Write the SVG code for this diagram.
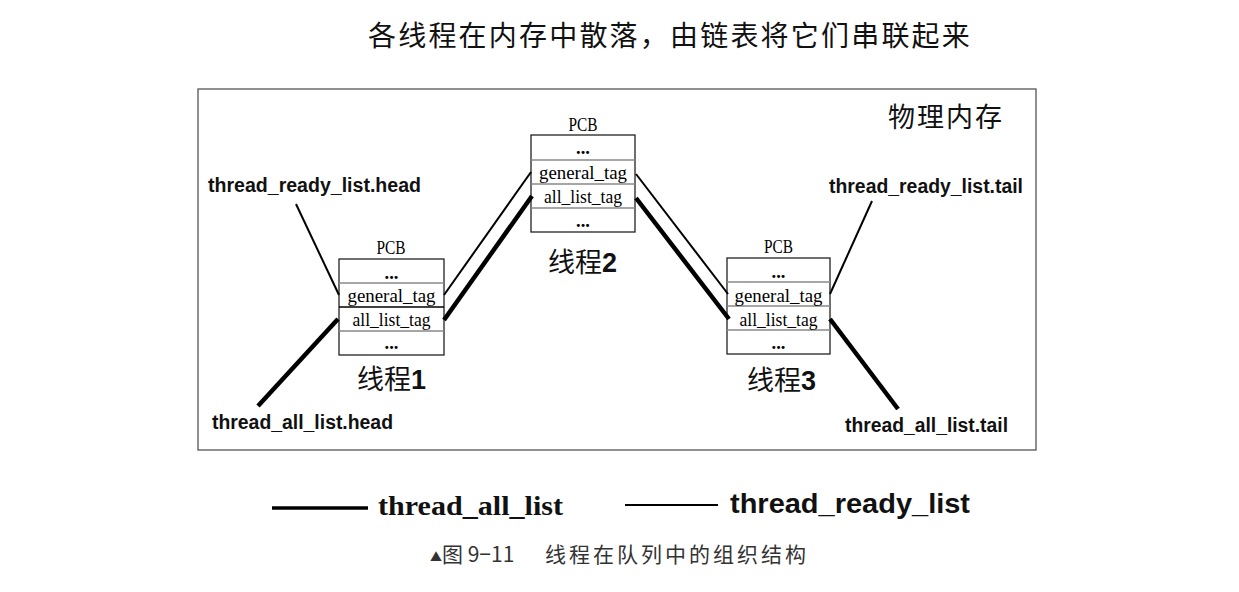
<svg xmlns="http://www.w3.org/2000/svg" width="1239" height="592" viewBox="0 0 1239 592">
<style>
.cjk{font-family:"Noto Sans CJK SC","Noto Sans",sans-serif;fill:#111}
.lbl{font-family:"Liberation Sans",Arial,sans-serif;font-weight:bold;font-size:19.5px;fill:#111}
.ser{font-family:"Liberation Serif","Times New Roman",serif;font-size:18.5px;fill:#000;text-anchor:middle}
.box{fill:#fff;stroke:#222;stroke-width:1.3}
.sep{stroke:#888;stroke-width:1.4}
.thin{stroke:#000;stroke-width:2;fill:none}
.thick{stroke:#000;stroke-width:4.5;fill:none}
.num{font-family:"Liberation Sans",Arial,sans-serif;font-weight:bold}
</style>
<rect width="1239" height="592" fill="#fff"/>
<text class="cjk" x="368" y="46" font-size="28" letter-spacing="2.2">各线程在内存中散落，由链表将它们串联起来</text>
<rect x="198" y="89" width="838" height="361" fill="none" stroke="#555" stroke-width="1.3"/>
<text class="cjk" x="888" y="127" font-size="27" letter-spacing="2">物理内存</text>

<g id="thread1">
<text class="ser" x="391" y="254" textLength="29" lengthAdjust="spacingAndGlyphs">PCB</text>
<rect class="box" x="339" y="259" width="105" height="96"/>
<line class="sep" x1="339" y1="283" x2="444" y2="283"/>
<line x1="339" y1="307" x2="444" y2="307" stroke="#000" stroke-width="1.5"/>
<line class="sep" x1="339" y1="331" x2="444" y2="331"/>
<text class="ser" x="391.5" y="279" font-weight="bold">...</text>
<text class="ser" x="391.5" y="302" textLength="88" lengthAdjust="spacingAndGlyphs">general_tag</text>
<text class="ser" x="391.5" y="326" textLength="78" lengthAdjust="spacingAndGlyphs">all_list_tag</text>
<text class="ser" x="391.5" y="349" font-weight="bold">...</text>
<text class="cjk" x="357" y="389" font-size="27">线程<tspan class="num">1</tspan></text>
</g>

<g id="thread2">
<text class="ser" x="583" y="131" textLength="29" lengthAdjust="spacingAndGlyphs">PCB</text>
<rect class="box" x="531" y="135" width="104" height="97"/>
<line class="sep" x1="531" y1="160" x2="635" y2="160"/>
<line class="sep" x1="531" y1="184" x2="635" y2="184"/>
<line class="sep" x1="531" y1="208" x2="635" y2="208"/>
<text class="ser" x="583" y="154" font-weight="bold">...</text>
<text class="ser" x="583" y="179" textLength="88" lengthAdjust="spacingAndGlyphs">general_tag</text>
<text class="ser" x="583" y="203" textLength="78" lengthAdjust="spacingAndGlyphs">all_list_tag</text>
<text class="ser" x="583" y="227" font-weight="bold">...</text>
<text class="cjk" x="548" y="272" font-size="27">线程<tspan class="num">2</tspan></text>
</g>

<g id="thread3">
<text class="ser" x="778.5" y="253" textLength="29" lengthAdjust="spacingAndGlyphs">PCB</text>
<rect class="box" x="727" y="258" width="103" height="96"/>
<line class="sep" x1="727" y1="282" x2="830" y2="282" stroke-width="2"/>
<line class="sep" x1="727" y1="306" x2="830" y2="306"/>
<line class="sep" x1="727" y1="330" x2="830" y2="330"/>
<text class="ser" x="778.5" y="278" font-weight="bold">...</text>
<text class="ser" x="778.5" y="302" textLength="88" lengthAdjust="spacingAndGlyphs">general_tag</text>
<text class="ser" x="778.5" y="326" textLength="78" lengthAdjust="spacingAndGlyphs">all_list_tag</text>
<text class="ser" x="778.5" y="349" font-weight="bold">...</text>
<text class="cjk" x="747" y="390" font-size="27">线程<tspan class="num">3</tspan></text>
</g>

<g id="labels">
<text class="lbl" x="208" y="192" textLength="213" lengthAdjust="spacingAndGlyphs">thread_ready_list.head</text>
<text class="lbl" x="212" y="429" textLength="181" lengthAdjust="spacingAndGlyphs">thread_all_list.head</text>
<text class="lbl" x="829" y="193" textLength="194" lengthAdjust="spacingAndGlyphs">thread_ready_list.tail</text>
<text class="lbl" x="845" y="432" textLength="163" lengthAdjust="spacingAndGlyphs">thread_all_list.tail</text>
</g>

<g id="connectors">
<line class="thin" x1="296" y1="204" x2="339" y2="295"/>
<line class="thick" x1="338" y1="319" x2="258" y2="406"/>
<line class="thin" x1="444" y1="295" x2="531" y2="172"/>
<line class="thick" x1="444" y1="320" x2="532" y2="196"/>
<line class="thin" x1="636" y1="174" x2="728" y2="294"/>
<line class="thick" x1="636" y1="198" x2="729" y2="319"/>
<line class="thin" x1="830" y1="294" x2="872" y2="201"/>
<line class="thick" x1="830" y1="319" x2="898" y2="409"/>
</g>

<g id="legend">
<line x1="272" y1="508" x2="368" y2="508" stroke="#000" stroke-width="3.5"/>
<text x="378" y="515" font-family="'Liberation Serif','Times New Roman',serif" font-weight="bold" font-size="28" fill="#111" textLength="185" lengthAdjust="spacingAndGlyphs">thread_all_list</text>
<line x1="625" y1="505" x2="718" y2="505" stroke="#000" stroke-width="1.8"/>
<text x="730" y="513" font-family="'Liberation Sans',Arial,sans-serif" font-weight="bold" font-size="28" fill="#111" textLength="240" lengthAdjust="spacingAndGlyphs">thread_ready_list</text>
</g>

<text x="430" y="562" font-family="'Noto Sans CJK SC','Liberation Sans',sans-serif" font-size="21" fill="#333"><tspan font-size="12">▲</tspan>图 9−11<tspan x="545" letter-spacing="3">线程在队列中的组织结构</tspan></text>
</svg>
